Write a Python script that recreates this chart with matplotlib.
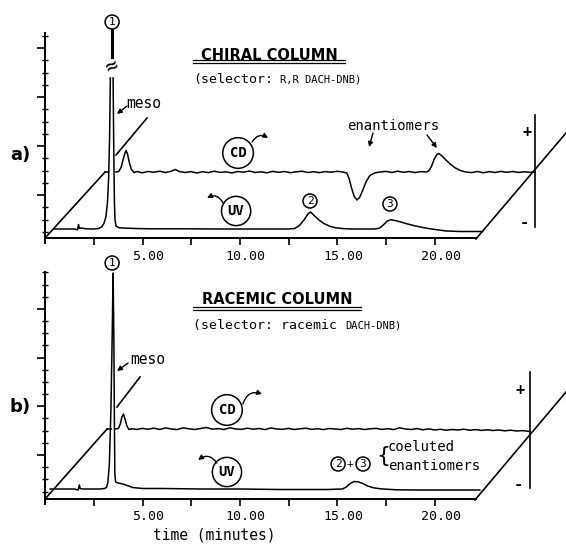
import numpy as np
import matplotlib.pyplot as plt
from matplotlib.transforms import ScaledTranslation

plt.rcParams['font.family'] = 'DejaVu Sans Mono'

nan = float('nan')

# (time / min, signal) pairs
# a) chiral column, R,R DACH-DNB selector
uv_chiral = [(0.45, 0.0), (1.50, 0.0), (1.66, -0.08), (1.72, 0.45), (1.76, 0.05), (1.85, 0.10),
             (2.10, 0.02), (2.50, 0.0), (2.75, 0.05), (2.90, 0.20), (3.02, 0.55), (3.12, 1.20),
             (3.20, 2.60), (3.26, 5.00), (3.31, 9.00), (3.35, 15.10), (nan, nan), (3.49, 15.10),
             (3.53, 7.00), (3.56, 2.50), (3.59, 0.90), (3.64, 0.30), (3.80, 0.12), (4.20, 0.08),
             (4.80, 0.04), (5.50, 0.02), (7.00, 0.02), (9.00, 0.0), (11.00, 0.0), (12.50, 0.0),
             (12.80, 0.05), (13.05, 0.35), (13.30, 0.95), (13.50, 1.55), (13.62, 1.70), (13.80, 1.35),
             (14.05, 0.90), (14.30, 0.55), (14.60, 0.28), (14.90, 0.12), (15.30, 0.04), (15.70, 0.0),
             (16.90, 0.0), (17.15, 0.08), (17.35, 0.40), (17.55, 0.80), (17.72, 0.92), (17.95, 0.85),
             (18.25, 0.70), (18.60, 0.50), (19.00, 0.30), (19.50, 0.10), (20.00, -0.05), (20.60, -0.20),
             (21.30, -0.25), (22.45, -0.25)]

cd_chiral = [(0.00, 0.0), (0.18, 0.0), (nan, nan), (0.55, 0.0), (0.70, 0.05), (0.82, 0.45),
             (0.92, 1.2), (1.02, 1.9), (1.08, 2.15), (1.15, 1.8), (1.25, 0.9), (1.35, 0.25),
             (1.48, -0.05), (1.65, 0.05), (1.9, -0.08), (2.2, 0.05), (2.5, -0.03), (2.8, 0.08),
             (3.1, -0.05), (3.4, 0.08), (3.6, 0.25), (3.8, 0.05), (4.1, -0.05), (4.4, 0.04),
             (4.7, -0.1), (5.0, 0.03), (5.3, -0.06), (5.6, 0.08), (5.9, -0.04), (6.2, 0.02),
             (6.5, -0.1), (6.8, 0.05), (7.1, -0.02), (7.4, 0.1), (7.7, -0.05), (8.0, 0.02),
             (8.3, -0.08), (8.6, 0.06), (8.9, -0.03), (9.2, 0.05), (9.5, -0.07), (9.8, 0.02),
             (10.1, 0.08), (10.4, -0.05), (10.7, 0.03), (11.0, -0.06), (11.3, 0.04), (11.6, -0.02),
             (11.9, 0.07), (12.2, 0.0), (12.40, -0.1), (12.52, -0.7), (12.64, -1.6), (12.78, -2.45),
             (12.92, -2.8), (13.05, -2.55), (13.20, -1.9), (13.38, -1.0), (13.58, -0.35), (13.85, -0.08),
             (14.10, 0.0), (14.4, 0.06), (14.7, -0.05), (15.0, 0.08), (15.3, -0.03), (15.6, 0.05),
             (15.9, -0.06), (16.2, 0.04), (16.5, 0.0), (16.62, 0.15), (16.75, 0.6), (16.88, 1.3),
             (17.02, 1.75), (17.12, 1.85), (17.28, 1.6), (17.48, 1.2), (17.70, 0.8), (17.95, 0.42),
             (18.22, 0.15), (18.50, 0.0), (18.8, -0.06), (19.1, 0.05), (19.4, -0.08), (19.7, 0.04),
             (20.0, -0.05), (20.3, 0.06), (20.6, -0.03), (20.9, 0.05), (21.2, -0.04), (21.5, 0.02),
             (21.8, -0.03), (22.05, 0.0)]

# b) racemic column, racemic DACH-DNB selector
uv_racemic = [(0.26, 0.0), (1.50, 0.0), (1.70, -0.1), (1.76, 0.4), (1.80, 0.05), (1.90, 0.0),
              (2.80, 0.0), (3.05, 0.05), (3.15, 0.15), (3.22, 0.6), (3.30, 2.5), (3.38, 8.0),
              (3.45, 16.0), (3.49, 21.6), (3.53, 15.0), (3.56, 6.0), (3.58, 1.5), (3.62, 0.7),
              (3.75, 0.6), (4.0, 0.5), (4.5, 0.15), (5.0, 0.05), (6.0, 0.05), (8.0, 0.0),
              (10.0, 0.0), (12.0, -0.05), (14.5, -0.05), (15.25, 0.0), (15.45, 0.2), (15.65, 0.55),
              (15.85, 0.75), (16.05, 0.72), (16.30, 0.55), (16.55, 0.3), (16.85, 0.12), (17.2, 0.02),
              (18.0, -0.08), (19.0, -0.1), (20.0, -0.1), (22.3, -0.1)]

cd_racemic = [(0.0, 0.0), (0.22, 0.0), (nan, nan), (0.41, 0.0), (0.58, 0.05), (0.68, 0.5),
              (0.76, 1.2), (0.84, 1.5), (0.92, 1.0), (1.02, 0.3), (1.12, -0.05), (1.3, 0.03),
              (1.5, -0.05), (1.8, 0.06), (2.1, -0.02), (2.4, 0.08), (2.7, -0.04), (3.0, 0.1),
              (3.3, 0.0), (3.6, -0.06), (3.9, 0.12), (4.2, 0.02), (4.5, -0.05), (4.8, 0.05),
              (5.1, 0.15), (5.4, -0.02), (5.7, 0.04), (6.0, -0.05), (6.3, 0.12), (6.6, 0.0),
              (6.9, -0.04), (7.2, 0.08), (7.5, -0.02), (7.8, 0.05), (8.1, -0.06), (8.4, 0.1),
              (8.7, 0.0), (9.0, -0.03), (9.3, 0.06), (9.6, -0.05), (9.9, 0.02), (10.2, 0.08),
              (10.5, -0.04), (10.8, 0.03), (11.1, -0.06), (11.4, 0.05), (11.7, 0.0), (12.0, -0.05),
              (12.3, 0.07), (12.6, -0.02), (12.9, 0.04), (13.2, -0.05), (13.5, 0.02), (13.8, 0.06),
              (14.1, -0.04), (14.4, 0.03), (14.7, -0.06), (15.0, 0.12), (15.3, 0.0), (15.6, -0.05),
              (15.9, 0.04), (16.2, -0.08), (16.5, 0.02), (16.8, -0.1), (17.1, -0.03), (17.4, -0.12),
              (17.7, -0.05), (18.0, -0.1), (18.3, -0.02), (18.6, -0.12), (18.9, -0.06), (19.2, -0.14),
              (19.5, -0.08), (19.8, -0.15), (20.1, -0.1), (20.4, -0.18), (20.7, -0.12), (21.0, -0.2),
              (21.3, -0.16), (21.7, -0.25)]

tick_times = [5, 10, 15, 20]
tick_labels = ['5.00', '10.00', '15.00', '20.00']

K = 'black'


def setup(ax, ylim, ytop, y0, ystep, pad):
    ax.set_xlim(-2.31, 26.72)
    ax.set_ylim(*ylim)
    ax.patch.set_visible(False)
    ax.spines['top'].set_visible(False)
    ax.spines['right'].set_visible(False)
    ax.spines['left'].set_position(('data', 0))
    ax.spines['bottom'].set_position(('data', 0))
    ax.spines['left'].set_bounds(-0.5, ytop)
    ax.spines['bottom'].set_bounds(0, 22.1)
    for s in ('left', 'bottom'):
        ax.spines[s].set_linewidth(1.4)
    ax.set_xticks(tick_times, tick_labels)
    ax.set_xticks([2.5, 7.5, 12.5, 17.5], minor=True)
    ax.set_yticks(np.arange(y0, ytop, ystep))
    ax.set_yticks(np.arange(y0 - 3 * ystep / 4, ytop, ystep / 4), minor=True)
    ax.tick_params(axis='x', which='both', direction='out', length=5, width=1.2,
                   labelsize=9.5, pad=pad)
    ax.tick_params(axis='y', which='major', direction='out', length=6, width=1.2,
                   labelleft=False)
    ax.tick_params(axis='y', which='minor', direction='inout', length=4, width=1)
    # labels sit a little right of their ticks
    shift = ScaledTranslation(4 / 72, 0, fig.dpi_scale_trans)
    for lab in ax.get_xticklabels():
        lab.set_transform(lab.get_transform() + shift)


def trace(ax, pts, dx, dy):
    t, s = np.array(pts).T
    ax.plot(t + dx, s + dy, color=K, lw=1.1)


def circled(ax, x, y, s, size=8, pad=0.18, weight='normal'):
    ax.text(x, y, s, fontsize=size, fontweight=weight, ha='center', va='center',
            bbox=dict(boxstyle=f'circle,pad={pad}', fc='white', ec=K, lw=1.1))


def arrow(ax, start, end, rad=0.0):
    ax.annotate('', xy=end, xytext=start,
                arrowprops=dict(arrowstyle='-|>', color=K, lw=1.0, shrinkA=0, shrinkB=0,
                                mutation_scale=7, connectionstyle=f'arc3,rad={rad}'))


fig = plt.figure(figsize=(5.66, 5.44), dpi=100)
ax_a = fig.add_axes([0, 0.5, 1, 0.5])
ax_b = fig.add_axes([0, 0, 1, 0.5])

# ---- a) chiral column ----
setup(ax_a, (-3.4, 23.8), 20.5, 4.3, 4.9, 4)
trace(ax_a, uv_chiral, 0, 0.9)
trace(ax_a, cd_chiral, 3.08, 6.6)
# perspective frame
ax_a.plot([0, 3.08], [0, 6.6], color=K, lw=1.2)
ax_a.plot([3.64, 5.23], [8.3, 12.0], color=K, lw=1.2)
ax_a.plot([22.1, 26.72], [-0.1, 10.5], color=K, lw=1.2)
ax_a.plot([25.13, 25.13], [1.1, 12.3], color=K, lw=1.2)
ax_a.text(24.72, 10.5, '+', fontsize=11, fontweight='bold', ha='center', va='center')
ax_a.text(24.56, 1.6, '-', fontsize=11, fontweight='bold', ha='center', va='center')
# off-scale peak 1
ax_a.text(3.40, 17.1, '≈', fontsize=15, rotation=25, ha='center', va='center')
ax_a.plot([3.44, 3.44], [18.1, 20.9], color=K, lw=2.2)
circled(ax_a, 3.44, 21.6, '1')
circled(ax_a, 13.59, 3.7, '2')
circled(ax_a, 17.69, 3.4, '3')
circled(ax_a, 9.9, 8.5, 'CD', size=10, pad=0.5, weight='bold')
circled(ax_a, 9.8, 2.7, 'UV', size=10, pad=0.45, weight='bold')
arrow(ax_a, (10.62, 9.6), (11.44, 10.0), rad=-0.5)
arrow(ax_a, (9.13, 3.5), (8.31, 4.0), rad=0.5)
ax_a.text(-1.28, 8.3, 'a)', fontsize=13, fontweight='bold', family='DejaVu Sans',
          ha='center', va='center')
ax_a.text(11.49, 18.3, 'CHIRAL COLUMN', fontsize=10.5, fontweight='bold',
          family='DejaVu Sans', ha='center', va='center')
ax_a.plot([7.59, 15.38], [17.8, 17.8], color=K, lw=0.9)
ax_a.plot([7.59, 15.38], [17.55, 17.55], color=K, lw=0.9)
ax_a.text(7.59, 15.8, '(selector:', fontsize=9.5, ha='left', va='center')
ax_a.text(12.05, 15.8, 'R,R DACH-DNB)', fontsize=7.5, ha='left', va='center')
ax_a.text(4.15, 13.5, 'meso', fontsize=10.5, ha='left', va='center')
arrow(ax_a, (4.2, 13.2), (3.69, 12.4))
ax_a.text(17.85, 11.2, 'enantiomers', fontsize=10, ha='center', va='center')
arrow(ax_a, (16.82, 10.5), (16.62, 9.1))
arrow(ax_a, (19.59, 10.3), (20.1, 9.0))

# ---- b) racemic column ----
setup(ax_b, (-4.5, 22.7), 22.7, 4.4, 4.87, 3)
trace(ax_b, uv_racemic, 0, 1.0)
trace(ax_b, cd_racemic, 3.18, 7.0)
ax_b.plot([0, 3.18], [0, 7.0], color=K, lw=1.2)
ax_b.plot([3.69, 4.87], [9.2, 12.2], color=K, lw=1.2)
ax_b.plot([22.05, 26.72], [-0.1, 10.7], color=K, lw=1.2)
ax_b.plot([24.87, 24.87], [1.1, 12.7], color=K, lw=1.2)
ax_b.text(24.36, 10.9, '+', fontsize=11, fontweight='bold', ha='center', va='center')
ax_b.text(24.26, 1.4, '-', fontsize=11, fontweight='bold', ha='center', va='center')
circled(ax_b, 3.44, 23.6, '1')
circled(ax_b, 15.03, 3.5, '2')
ax_b.text(15.66, 3.5, '+', fontsize=8, ha='center', va='center')
circled(ax_b, 16.31, 3.5, '3')
ax_b.text(17.33, 4.3, '{', fontsize=16, family='DejaVu Sans', ha='center', va='center')
ax_b.text(17.59, 5.2, 'coeluted', fontsize=10, ha='left', va='center')
ax_b.text(17.59, 3.3, 'enantiomers', fontsize=10, ha='left', va='center')
circled(ax_b, 9.33, 8.9, 'CD', size=10, pad=0.5, weight='bold')
circled(ax_b, 9.33, 2.7, 'UV', size=10, pad=0.45, weight='bold')
arrow(ax_b, (10.15, 9.5), (11.13, 10.5), rad=-0.5)
arrow(ax_b, (8.82, 3.6), (7.85, 3.9), rad=0.5)
ax_b.text(-1.28, 9.2, 'b)', fontsize=13, fontweight='bold', family='DejaVu Sans',
          ha='center', va='center')
ax_b.text(11.9, 19.9, 'RACEMIC COLUMN', fontsize=10.5, fontweight='bold',
          family='DejaVu Sans', ha='center', va='center')
ax_b.plot([7.59, 16.2], [19.2, 19.2], color=K, lw=0.9)
ax_b.plot([7.59, 16.2], [18.95, 18.95], color=K, lw=0.9)
ax_b.text(7.59, 17.4, '(selector: racemic', fontsize=9.5, ha='left', va='center')
ax_b.text(15.38, 17.4, 'DACH-DNB)', fontsize=7.5, ha='left', va='center')
ax_b.text(4.36, 13.9, 'meso', fontsize=10.5, ha='left', va='center')
arrow(ax_b, (4.26, 13.6), (3.69, 12.8))
ax_b.text(8.7, -3.65, 'time (minutes)', fontsize=10.5, ha='center', va='center')

fig.savefig('out.png', dpi=100)
